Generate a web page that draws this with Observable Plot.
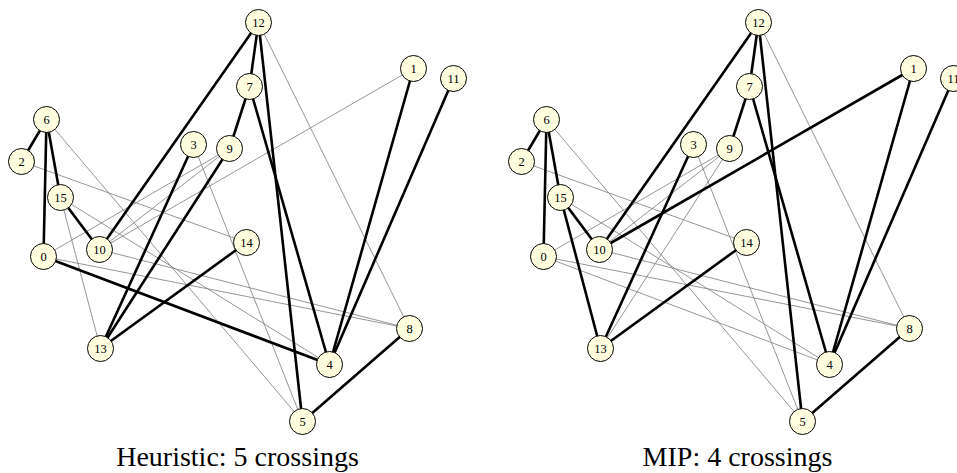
<!DOCTYPE html>
<html>
<head>
<meta charset="utf-8">
<script src="https://cdn.jsdelivr.net/npm/d3@7"></script>
<script src="https://cdn.jsdelivr.net/npm/@observablehq/plot@0.6"></script>
<style>
  html, body { margin: 0; padding: 0; background: #fff; overflow: hidden; }
</style>
</head>
<body>
<div id="chart"></div>
<script>
// Panels (captions)
const panels = ["Heuristic: 5 crossings", "MIP: 4 crossings"];

// Node layout (same in both panels)
const nodeIds = [0, 1, 2, 3, 4, 5, 6, 7, 8, 9, 10, 11, 12, 13, 14, 15];
const nodeX   = [56, 426, 34, 206, 342, 315, 59, 262, 422, 242, 112, 466, 271, 113, 259, 73];
const nodeY   = [256, 68, 161, 144, 364, 421, 119, 86, 328, 148, 249, 78, 22, 348, 242, 197];

// Edges
const edgeSource = [12, 12, 12, 12, 7, 7, 6, 6, 6, 6, 15, 15, 15, 3, 3, 9, 9, 9, 14, 2, 0, 0, 10, 1, 1, 11, 8];
const edgeTarget = [10, 7, 5, 8, 9, 4, 2, 0, 15, 5, 10, 13, 4, 13, 5, 13, 0, 10, 13, 14, 4, 8, 8, 4, 10, 4, 5];
// 1 = drawn bold (first page), 0 = thin (second page)
const heuristicBold = [1, 1, 1, 0, 1, 1, 1, 1, 1, 0, 1, 0, 0, 1, 0, 1, 0, 0, 1, 0, 1, 0, 0, 1, 0, 1, 1];
const mipBold       = [1, 1, 1, 0, 1, 1, 1, 1, 1, 0, 1, 1, 0, 1, 0, 0, 0, 0, 1, 0, 0, 0, 0, 1, 1, 1, 1];

const boldByPanel = [heuristicBold, mipBold];

const edges = [];
panels.forEach((panel, p) => {
  edgeSource.forEach((s, i) => {
    const t = edgeTarget[i];
    edges.push({
      panel,
      x1: nodeX[s], y1: nodeY[s],
      x2: nodeX[t], y2: nodeY[t],
      bold: boldByPanel[p][i] === 1
    });
  });
});

const nodes = [];
panels.forEach(panel => {
  nodeIds.forEach((id, i) => nodes.push({panel, id, x: nodeX[i], y: nodeY[i]}));
});

const serif = "'Liberation Serif', 'DejaVu Serif', 'Times New Roman', serif";

const chart = Plot.plot({
  width: 957,
  height: 473,
  marginTop: 0, marginRight: 0, marginBottom: 0, marginLeft: 0,
  style: {background: "#fff"},
  fx: {domain: panels, range: [-13, 987], padding: 0, axis: null},
  x: {domain: [0, 500], range: [0, 500], axis: null},
  y: {domain: [0, 473], range: [0, 473], axis: null},
  marks: [
    Plot.link(edges.filter(d => !d.bold), {
      fx: "panel", x1: "x1", y1: "y1", x2: "x2", y2: "y2",
      stroke: "#8a8a8a", strokeWidth: 0.9
    }),
    Plot.link(edges.filter(d => d.bold), {
      fx: "panel", x1: "x1", y1: "y1", x2: "x2", y2: "y2",
      stroke: "#000", strokeWidth: 2.6
    }),
    Plot.dot(nodes, {
      fx: "panel", x: "x", y: "y", r: 13,
      fill: "#ffffe0", stroke: "#000", strokeWidth: 1
    }),
    Plot.text(nodes, {
      fx: "panel", x: "x", y: "y", text: d => String(d.id),
      fontSize: 12.5, fontFamily: serif, fill: "#000", dy: 0.5
    }),
    Plot.text(panels, {
      fx: d => d, text: d => d, frameAnchor: "bottom", lineAnchor: "bottom",
      dy: -8, fontSize: 28, fontFamily: serif, fill: "#000"
    })
  ]
});

document.getElementById("chart").appendChild(chart);
</script>
</body>
</html>
